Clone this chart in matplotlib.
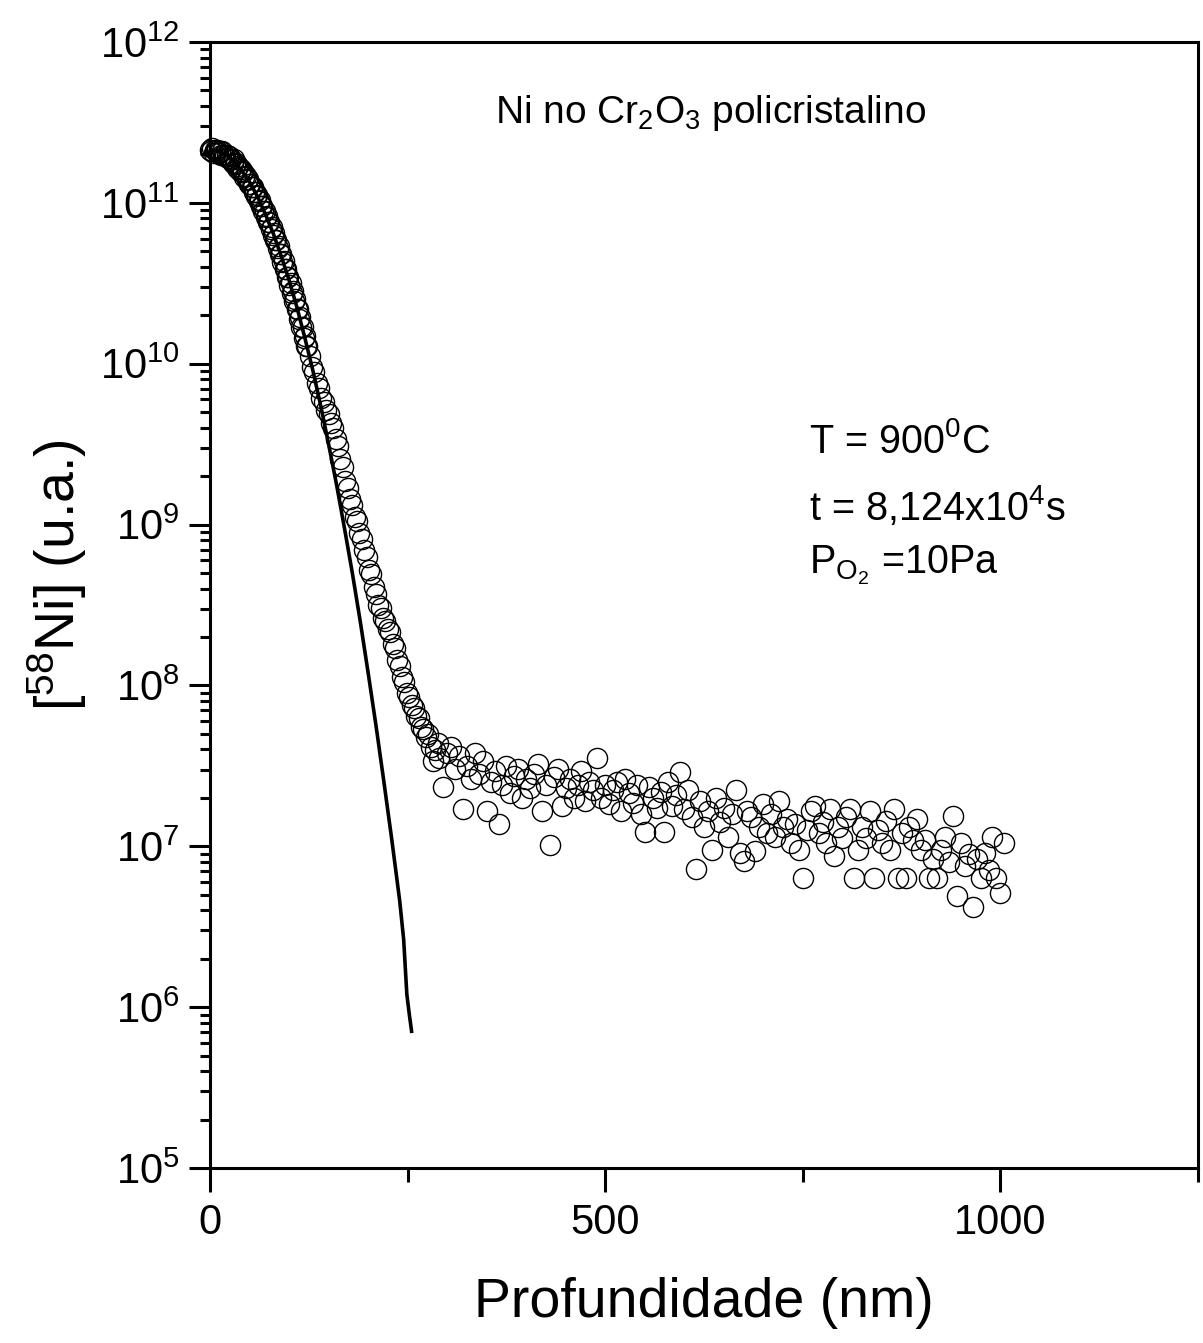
import matplotlib
matplotlib.use("Agg")
import matplotlib.pyplot as plt
import numpy as np
from matplotlib.ticker import MultipleLocator, LogLocator, NullFormatter

plt.rcParams["font.family"] = "Liberation Sans"
plt.rcParams["mathtext.fontset"] = "custom"
plt.rcParams["mathtext.rm"] = "Liberation Sans"
plt.rcParams["mathtext.it"] = "Liberation Sans:italic"
plt.rcParams["mathtext.bf"] = "Liberation Sans:bold"

# measured profile, near surface (depth in nm, log10 of concentration)
surface_depth = [0, 1.5, 3, 4.5, 6, 7.5, 9, 10.5, 12, 13.5, 15, 16.5, 18, 19.5,
                 21, 22.5, 24, 25.5, 27, 28.5, 30, 31.5, 33, 34.5, 36, 37.5, 39,
                 40.5, 42, 43.5, 45, 46.5, 48, 49.5, 51, 52.5, 54, 55.5, 57, 58.5,
                 60, 61.5, 63, 64.5, 66, 67.5, 69, 70.5, 72, 73.5, 75, 76.5, 78,
                 79.5, 81, 82.5, 84, 85.5, 87, 88.5, 90, 91.5, 93, 94.5, 96, 97.5,
                 99, 100.5, 102, 103.5, 105, 106.5, 108, 109.5, 111, 112.5, 114,
                 115.5, 117, 118.5, 120, 121.5, 123]
surface_log = [11.33, 11.32, 11.34, 11.31, 11.33, 11.32, 11.33, 11.31, 11.32, 11.30,
               11.32, 11.30, 11.30, 11.29, 11.30, 11.28, 11.29, 11.27, 11.27, 11.25,
               11.27, 11.24, 11.25, 11.22, 11.23, 11.20, 11.21, 11.19, 11.19, 11.16,
               11.17, 11.14, 11.15, 11.12, 11.12, 11.10, 11.10, 11.07, 11.07, 11.04,
               11.05, 11.01, 11.02, 10.98, 10.98, 10.95, 10.95, 10.91, 10.92, 10.88,
               10.88, 10.84, 10.85, 10.80, 10.81, 10.77, 10.77, 10.72, 10.73, 10.68,
               10.68, 10.63, 10.64, 10.59, 10.59, 10.54, 10.54, 10.49, 10.50, 10.44,
               10.45, 10.39, 10.40, 10.34, 10.34, 10.28, 10.29, 10.23, 10.23, 10.16,
               10.17, 10.11, 10.11]

# measured profile, bend towards the tail
bend_depth = [126, 129, 132, 135, 138, 141, 144, 147, 150, 153, 156, 159, 162, 165,
              168, 171, 174, 177, 180, 183, 186, 189, 192, 195, 198, 201, 204, 207,
              210, 213, 216, 219, 222, 225, 228, 231, 234, 237, 240, 243, 246, 249,
              252, 255, 258, 261, 264, 267, 270, 273, 276, 279, 282, 285, 288]
bend_log = [10.05, 9.98, 9.95, 9.88, 9.85, 9.79, 9.76, 9.71, 9.69, 9.63, 9.60, 9.53,
            9.49, 9.41, 9.36, 9.27, 9.23, 9.16, 9.12, 9.05, 9.02, 8.95, 8.91, 8.84,
            8.80, 8.72, 8.69, 8.61, 8.57, 8.50, 8.48, 8.42, 8.40, 8.35, 8.33, 8.26,
            8.23, 8.16, 8.12, 8.05, 8.02, 7.95, 7.93, 7.88, 7.86, 7.81, 7.80, 7.74,
            7.73, 7.68, 7.70, 7.62, 7.53, 7.60, 7.64]

# measured profile, tail
tail_depth = [290, 295, 300, 305, 310, 315, 320, 325, 330, 335,
              340, 345, 350, 355, 360, 365, 370, 375, 380, 385,
              390, 395, 400, 405, 410, 415, 420, 425, 430, 435,
              440, 445, 450, 455, 460, 465, 470, 475, 480, 485,
              490, 495, 500, 505, 510, 515, 520, 525, 530, 535,
              540, 545, 550, 555, 560, 565, 570, 575, 580, 585,
              590, 595, 600, 605, 610, 615, 620, 625, 630, 635,
              640, 645, 650, 655, 660, 665, 670, 675, 680, 685,
              690, 695, 700, 705, 710, 715, 720, 725, 730, 735,
              740, 745, 750, 755, 760, 765, 770, 775, 780, 785,
              790, 795, 800, 805, 810, 815, 820, 825, 830, 835,
              840, 845, 850, 855, 860, 865, 870, 875, 880, 885,
              890, 895, 900, 905, 910, 915, 920, 925, 930, 935,
              940, 945, 950, 955, 960, 965, 970, 975, 980, 985,
              990, 995, 1000, 1005]
tail_log = [7.55, 7.37, 7.58, 7.62, 7.48, 7.56, 7.23, 7.50, 7.42, 7.58,
            7.45, 7.53, 7.22, 7.40, 7.47, 7.14, 7.38, 7.50, 7.33, 7.44,
            7.48, 7.30, 7.42, 7.36, 7.45, 7.51, 7.22, 7.38, 7.01, 7.43,
            7.48, 7.25, 7.36, 7.42, 7.30, 7.38, 7.47, 7.28, 7.40, 7.35,
            7.55, 7.30, 7.38, 7.26, 7.35, 7.40, 7.22, 7.42, 7.33, 7.27,
            7.38, 7.20, 7.09, 7.37, 7.30, 7.24, 7.34, 7.09, 7.40, 7.25,
            7.32, 7.46, 7.23, 7.35, 7.18, 6.86, 7.28, 7.12, 7.22, 6.98,
            7.30, 7.15, 7.24, 7.06, 7.20, 7.35, 6.96, 6.91, 7.22, 7.18,
            6.97, 7.12, 7.26, 7.08, 7.20, 7.06, 7.28, 7.12, 7.17, 7.02,
            7.14, 6.98, 6.80, 7.10, 7.22, 7.25, 7.08, 7.15, 7.02, 7.23,
            6.94, 7.12, 7.05, 7.18, 7.23, 6.80, 6.98, 7.12, 7.05, 7.22,
            6.80, 7.10, 7.02, 7.16, 6.98, 7.23, 6.80, 7.08, 6.80, 7.12,
            7.04, 7.17, 6.98, 7.04, 6.80, 6.92, 6.80, 6.98, 7.06, 6.90,
            7.19, 6.69, 7.02, 6.88, 6.95, 6.62, 6.92, 6.80, 6.96, 6.85,
            7.06, 6.80, 6.71, 7.02]

# fitted curve
fit_depth = [0, 10, 20, 30, 40, 50, 60, 70, 80, 90, 100, 110, 120, 130, 140, 150,
             160, 170, 180, 190, 200, 210, 220, 230, 240, 245, 249, 252, 255]
fit_log = [11.33, 11.32, 11.30, 11.26, 11.20, 11.13, 11.04, 10.93, 10.81, 10.67,
           10.52, 10.35, 10.16, 9.96, 9.74, 9.50, 9.25, 8.98, 8.70, 8.40, 8.08,
           7.75, 7.40, 7.04, 6.66, 6.42, 6.08, 5.96, 5.85]

data_depth = surface_depth + bend_depth + tail_depth
data_conc = 10 ** np.array(surface_log + bend_log + tail_log)
fit_conc = 10 ** np.array(fit_log)

fig = plt.figure(figsize=(12.03, 13.43), dpi=100)
ax = fig.add_axes([0.1746, 0.1303, 0.8212, 0.8384])

ax.plot(data_depth, data_conc, linestyle="none", marker="o", markersize=14.5,
        markerfacecolor="none", markeredgecolor="black", markeredgewidth=1.0,
        clip_on=False)
ax.plot(fit_depth, fit_conc, color="black", linewidth=2.6)

ax.set_yscale("log")
ax.set_ylim(1e5, 1e12)
ax.set_xlim(0, 1250)

ax.yaxis.set_major_locator(LogLocator(base=10, numticks=20))
ax.yaxis.set_minor_locator(LogLocator(base=10, subs=np.arange(2, 10), numticks=20))
ax.yaxis.set_minor_formatter(NullFormatter())
ax.xaxis.set_major_locator(MultipleLocator(500))
ax.xaxis.set_minor_locator(MultipleLocator(250))

for s in ax.spines.values():
    s.set_linewidth(2.2)

ax.tick_params(axis="both", which="both", direction="out", width=2.2,
               top=False, right=False, labelsize=30)
ax.tick_params(axis="y", which="major", length=15, pad=7)
ax.tick_params(axis="y", which="minor", length=7.5)
ax.tick_params(axis="x", which="major", length=17, pad=8)
ax.tick_params(axis="x", which="minor", length=10)

ax.set_xlabel("Profundidade (nm)", fontsize=40)
ax.xaxis.set_label_coords(0.5, -0.097)
ax.set_ylabel(r"[$^{58}$Ni] (u.a.)", fontsize=40)
ax.yaxis.set_label_coords(-0.123, 0.527)

ax.text(0.288, 0.928, r"Ni no Cr$_2$O$_3$ policristalino", transform=ax.transAxes,
        fontsize=28, va="baseline", ha="left")
ax.text(0.606, 0.635, r"T = 900$^0$C", transform=ax.transAxes,
        fontsize=28.5, va="baseline", ha="left")
ax.text(0.606, 0.5755, r"t = 8,124x10$^4$s", transform=ax.transAxes,
        fontsize=28.5, va="baseline", ha="left")
ax.text(0.606, 0.528, r"P$_{\mathrm{O}_2}$ =10Pa", transform=ax.transAxes,
        fontsize=28.5, va="baseline", ha="left")

fig.savefig("out.png", dpi=100)
